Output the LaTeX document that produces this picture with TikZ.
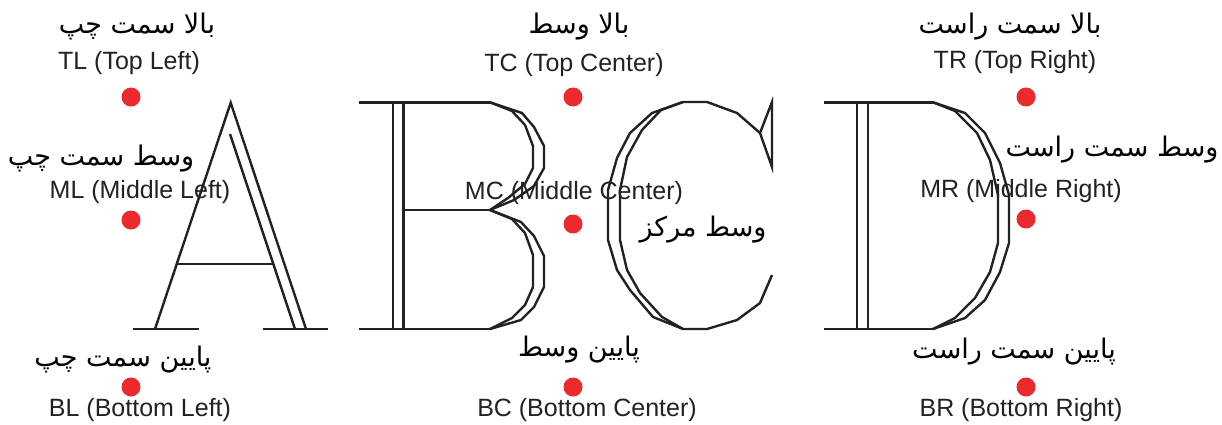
\documentclass[tikz,border=0pt]{standalone}
\usepackage{fontspec}
\setmainfont{Liberation Sans}
\newfontfamily\farsi[Script=Arabic]{DejaVu Sans}
\TeXXeTstate=1
\definecolor{dotred}{RGB}{236,42,46}
\definecolor{inkgray}{RGB}{34,34,34}

\begin{document}
\begin{tikzpicture}[x=1pt,y=-1pt,
  reddot/.style={shape=circle,fill=dotred,inner sep=0pt,minimum size=19pt},
  entext/.style={font=\fontsize{25}{30}\selectfont,text=inkgray,inner sep=0pt,anchor=base},
  fatext/.style={font=\farsi\fontsize{27}{32}\selectfont,inner sep=0pt,anchor=base},
  glyph/.style={line width=2.4pt,draw=inkgray}]
  \useasboundingbox (0,0) rectangle (1222,424);

  % letter A
  \draw[glyph] (155,329) -- (230.7,102.7) -- (306,329);
  \draw[glyph] (230,134) -- (295,329);
  \draw[glyph] (176.7,264) -- (273.3,264);
  \draw[glyph] (132.7,329) -- (199,329);
  \draw[glyph] (262.7,329) -- (328.3,329);

  % letter B
  \draw[glyph] (359,102.3) -- (490,102.3);
  \draw[glyph] (359,329) -- (490,329);
  \draw[glyph] (392.7,102.3) -- (392.7,329);
  \draw[glyph] (403.3,102.3) -- (403.3,329);
  \draw[glyph] (403.3,210) -- (490,210);
  \draw[glyph] (490,102.3) -- (522,113) -- (534,127) -- (544,146) -- (544,168) -- (534,186) -- (514,200) -- (490,210);
  \draw[glyph] (490,102.3) -- (512,111) -- (525,125) -- (533,146) -- (533,168) -- (525,184) -- (508,198) -- (490,210);
  \draw[glyph] (490,210) -- (521,222) -- (534,236) -- (544,256) -- (544,287) -- (534,307) -- (521,320) -- (490,329);
  \draw[glyph] (490,210) -- (512,219) -- (525,233) -- (533,255) -- (533,287) -- (525,305) -- (512,318) -- (490,329);

  % letter C
  \draw[glyph] (772,102) -- (772,167) -- (760,133) -- cycle;
  \draw[glyph] (760,133) -- (737,113) -- (707,102) -- (683,102) -- (652,113) -- (630,133) -- (617,158)
    -- (608,190) -- (608,240) -- (617,270) -- (630,290) -- (653,317) -- (683,329) -- (707,329)
    -- (737,320) -- (760,303) -- (772,275);
  \draw[glyph] (683,102) -- (661,110) -- (642,130) -- (627,157) -- (620,190) -- (620,240) -- (627,270)
    -- (640,293) -- (662,317) -- (683,329);

  % letter D
  \draw[glyph] (824,102.3) -- (933,102.3);
  \draw[glyph] (824,329) -- (933,329);
  \draw[glyph] (856.7,102.3) -- (856.7,329);
  \draw[glyph] (867.7,102.3) -- (867.7,329);
  \draw[glyph] (933,102.3) -- (965,113) -- (985,133) -- (1000,163) -- (1009,195) -- (1009,243)
    -- (1000,272) -- (985,300) -- (965,318) -- (933,329);
  \draw[glyph] (933,102.3) -- (955,111) -- (977,133) -- (990,160) -- (998,195) -- (998,243)
    -- (990,272) -- (975,298) -- (955,318) -- (933,329);

  % anchor points
  \node[reddot] (tl) at (131,97) {};
  \node[reddot] (ml) at (131,220) {};
  \node[reddot] (bl) at (131,387) {};
  \node[reddot] (tc) at (573,97) {};
  \node[reddot] (mc) at (573,224) {};
  \node[reddot] (bc) at (573,387) {};
  \node[reddot] (tr) at (1026,97) {};
  \node[reddot] (mr) at (1026,219) {};
  \node[reddot] (br) at (1026,387) {};

  % labels
  \node[fatext] (tlfa) at (137,33) {\beginR بالا سمت چپ\endR};
  \node[entext] (tlen) at (129,69.5) {TL (Top Left)};
  \node[fatext] (tcfa) at (579,33) {\beginR بالا وسط\endR};
  \node[entext] (tcen) at (574,71.5) {TC (Top Center)};
  \node[fatext] (trfa) at (1010,33) {\beginR بالا سمت راست\endR};
  \node[entext] (tren) at (1015,68.5) {TR (Top Right)};
  \node[fatext] (mlfa) at (101,165) {\beginR وسط سمت چپ\endR};
  \node[entext] (mlen) at (140,198.5) {ML (Middle Left)};
  \node[entext] (mcen) at (574,199.5) {MC (Middle Center)};
  \node[fatext] (mcfa) at (703,236.5) {\beginR وسط مرکز\endR};
  \node[fatext] (mrfa) at (1112,156.5) {\beginR وسط سمت راست\endR};
  \node[entext] (mren) at (1021,197.5) {MR (Middle Right)};
  \node[fatext] (blfa) at (123,366.5) {\beginR پایین سمت چپ\endR};
  \node[entext] (blen) at (140,416) {BL (Bottom Left)};
  \node[fatext] (bcfa) at (579,356.5) {\beginR پایین وسط\endR};
  \node[entext] (bcen) at (587,416) {BC (Bottom Center)};
  \node[fatext] (brfa) at (1014,358) {\beginR پایین سمت راست\endR};
  \node[entext] (bren) at (1021,416) {BR (Bottom Right)};
\end{tikzpicture}
\end{document}
